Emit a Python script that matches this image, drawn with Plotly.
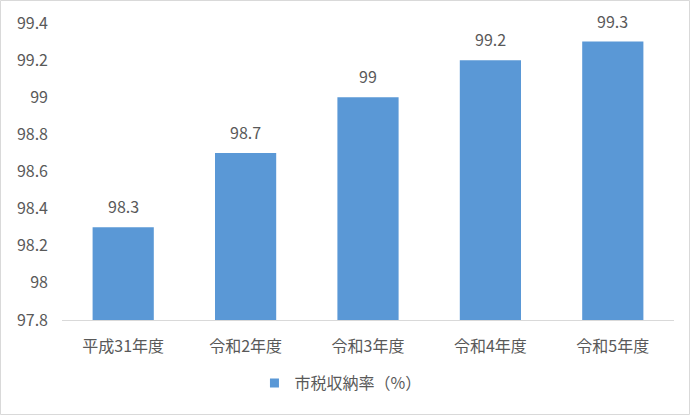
import plotly.graph_objects as go

# 市税収納率の推移
categories = ['平成31年度', '令和2年度', '令和3年度', '令和4年度', '令和5年度']
rates = [98.3, 98.7, 99, 99.2, 99.3]
y_floor = 97.8
tick_vals = [97.8, 98, 98.2, 98.4, 98.6, 98.8, 99, 99.2, 99.4]
tick_text = ['97.8', '98', '98.2', '98.4', '98.6', '98.8', '99', '99.2', '99.4']
series_name = '市税収納率（%）'

W, H = 690, 415
L, R, T, B = 62, 16, 23, 95
pw, ph = W - L - R, H - T - B

font_jp = 'Noto Sans CJK JP, Noto Sans, sans-serif'
grey_txt = '#595959'
bar_blue = '#5a98d6'

fig = go.Figure()
# bars are drawn from the axis floor, so y is the height above base
fig.add_trace(go.Bar(
    x=categories, y=[v - y_floor for v in rates], base=y_floor,
    width=0.5, showlegend=False, hoverinfo='skip',
    marker=dict(color=bar_blue, line=dict(width=0)),
))
# small square legend key, like Excel
fig.add_trace(go.Scatter(
    x=[None], y=[None], mode='markers', name=series_name,
    marker=dict(symbol='square', size=9, color=bar_blue),
))

# data labels
for c, v in zip(categories, rates):
    fig.add_annotation(x=c, y=v, text=str(v), showarrow=False,
                       yanchor='bottom', yshift=7,
                       font=dict(size=16, color=grey_txt))

fig.update_layout(
    width=W, height=H,
    margin=dict(l=L, r=R, t=T, b=B),
    paper_bgcolor='white', plot_bgcolor='white',
    font=dict(family=font_jp, color=grey_txt, size=16),
    showlegend=True,
    legend=dict(orientation='h', x=0.455, xanchor='center',
                y=-(383 - (T + ph)) / ph, yanchor='middle',
                font=dict(size=16, color=grey_txt), itemwidth=30),
)
fig.update_xaxes(showline=True, linecolor='#d9d9d9', linewidth=1, ticks='',
                 automargin=False, ticklabelstandoff=12,
                 tickfont=dict(size=16, color=grey_txt))
fig.update_yaxes(range=[97.8, 99.4], tickvals=tick_vals, ticktext=tick_text,
                 showgrid=False, zeroline=False, showline=False, automargin=False,
                 tickfont=dict(size=16, color=grey_txt), ticklabelstandoff=13)

# outer chart border
fig.add_shape(type='rect', xref='paper', yref='paper',
              x0=(0.5 - L) / pw, x1=(W - 0.5 - L) / pw,
              y0=-(H - 0.5 - T - ph) / ph, y1=(T - 0.5) / ph + 1,
              line=dict(color='#d9d9d9', width=1), fillcolor='rgba(0,0,0,0)', layer='below')

# drop the browser's default body margin so the chart sits at the page corner
fig.write_html("out.html", config={'displayModeBar': False},
               post_script="document.body.style.margin='0';")
